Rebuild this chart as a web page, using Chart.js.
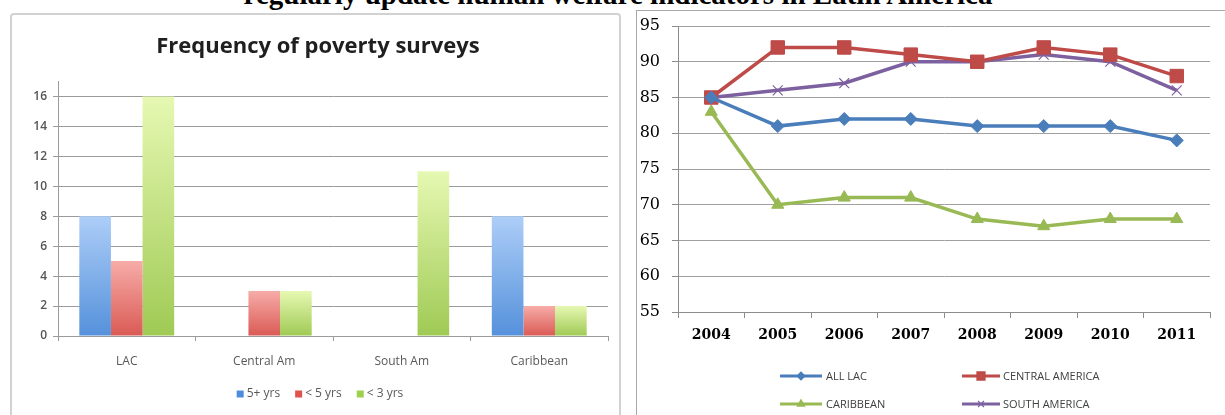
<!DOCTYPE html>
<html>
<head>
<meta charset="utf-8">
<script src="https://cdn.jsdelivr.net/npm/chart.js@4/dist/chart.umd.min.js"></script>
<style>
  html, body { margin: 0; padding: 0; background: #fff; }
  body { width: 1225px; height: 415px; overflow: hidden; position: relative; }
  #heading {
    position: absolute; left: 0; width: 1236px; top: -20px;
    text-align: center; white-space: nowrap; color: #000;
    font: bold 29px/29px 'Liberation Serif', 'Times New Roman', serif;
  }
  #leftBox {
    position: absolute; left: 10px; top: 13px; width: 611px; height: 420px;
    border: 2px solid #d2d2d2; border-radius: 4px; box-sizing: border-box;
  }
  #rightBox {
    position: absolute; left: 636px; top: 10px; width: 600px; height: 420px;
    border: 1px solid #a8a8a8; box-sizing: border-box;
  }
  #barCanvas { position: absolute; left: 0; top: 0; }
  #lineCanvas { position: absolute; left: 625px; top: 0; }
</style>
</head>
<body>
<div id="heading">regularly update human welfare indicators in Latin America</div>
<div id="leftBox"></div>
<div id="rightBox"></div>
<canvas id="barCanvas" width="625" height="415"></canvas>
<canvas id="lineCanvas" width="600" height="415"></canvas>
<script>
// ---- Survey frequency by region ----
const regions = ['LAC', 'Central Am', 'South Am', 'Caribbean'];
const surveySeries = ['5+ yrs', '< 5 yrs', '< 3 yrs'];
const fivePlusYears = [8, 0, 0, 8];
const underFiveYears = [5, 3, 0, 2];
const underThreeYears = [16, 3, 11, 2];
const countTicks = [0, 2, 4, 6, 8, 10, 12, 14, 16];

// ---- Indicator coverage by year ----
const years = ['2004', '2005', '2006', '2007', '2008', '2009', '2010', '2011'];
const lineSeries = ['ALL LAC', 'CENTRAL AMERICA', 'CARIBBEAN', 'SOUTH AMERICA'];
const allLac = [85, 81, 82, 82, 81, 81, 81, 79];
const centralAmerica = [85, 92, 92, 91, 90, 92, 91, 88];
const caribbean = [83, 70, 71, 71, 68, 67, 68, 68];
const southAmerica = [85, 86, 87, 90, 90, 91, 90, 86];

Chart.defaults.devicePixelRatio = 1;
Chart.defaults.animation = false;

const sans = '"Open Sans", sans-serif';

// Vertical gradient spanning each bar, light at the top, saturated at the base
function barGradient(light, dark) {
  return (ctx) => {
    const chart = ctx.chart;
    const y = chart.scales.y;
    if (!y || ctx.parsed === undefined || !chart.chartArea) return dark;
    const top = y.getPixelForValue(ctx.parsed.y);
    const base = y.getPixelForValue(0);
    if (!(base - top > 0.5)) return dark;
    const g = chart.ctx.createLinearGradient(0, top, 0, base);
    g.addColorStop(0, light);
    g.addColorStop(1, dark);
    return g;
  };
}

const barColors = [
  { light: '#adcef8', dark: '#5591db', key: '#4f8ddc' },
  { light: '#f7aca8', dark: '#da5a54', key: '#e0524d' },
  { light: '#e6f8b2', dark: '#9fca54', key: '#9dd04c' }
];

const barLegend = {
  id: 'barLegend',
  afterDraw(chart) {
    const c = chart.ctx;
    c.save();
    c.font = '12px ' + sans;
    c.textBaseline = 'middle';
    const box = 7, gap = 3, spacing = 15;
    const widths = surveySeries.map(s => box + gap + c.measureText(s).width);
    const total = widths.reduce((a, b) => a + b, 0) + spacing * (widths.length - 1);
    let x = 320 - total / 2;
    const y = 394;
    surveySeries.forEach((s, i) => {
      c.fillStyle = barColors[i].key;
      c.fillRect(x, y - box / 2, box, box);
      c.fillStyle = '#595959';
      c.fillText(s, x + box + gap, y);
      x += widths[i] + spacing;
    });
    c.restore();
  }
};

new Chart(document.getElementById('barCanvas'), {
  type: 'bar',
  data: {
    labels: regions,
    datasets: [fivePlusYears, underFiveYears, underThreeYears].map((d, i) => ({
      label: surveySeries[i],
      data: d,
      backgroundColor: barGradient(barColors[i].light, barColors[i].dark),
      borderWidth: 0,
      categoryPercentage: 0.69,
      barPercentage: 1.0
    }))
  },
  options: {
    responsive: false,
    layout: { padding: { left: 28, right: 17, top: 0, bottom: 0 } },
    plugins: {
      legend: { display: false },
      tooltip: { enabled: false },
      title: {
        display: true,
        text: 'Frequency of poverty surveys',
        color: '#1f1f1f',
        font: { family: sans, size: 22, weight: 'bold', lineHeight: 1.2 },
        padding: { top: 34, bottom: 21 }
      }
    },
    scales: {
      x: {
        afterFit(s) { s.height = 79; },
        grid: { offset: true, drawOnChartArea: false, drawTicks: true, tickLength: 5, tickColor: '#9b9b9b' },
        border: { display: true, color: '#9b9b9b', width: 1 },
        ticks: { color: '#595959', padding: 13, font: { family: sans, size: 12 } }
      },
      y: {
        min: 0, max: 17,
        afterFit(s) { s.width = 30; },
        afterBuildTicks(s) { s.ticks = countTicks.map(v => ({ value: v })); },
        grid: { color: '#9b9b9b', lineWidth: 1, drawTicks: true, tickLength: 5, tickColor: '#9b9b9b' },
        border: { display: true, color: '#9b9b9b', width: 1 },
        ticks: { color: '#555555', padding: 6, font: { family: sans, size: 12, weight: '600' } }
      }
    }
  },
  plugins: [barLegend]
});

const lineStyles = [
  { color: '#4a7ebb', marker: 'rectRot', radius: 6.5 },
  { color: '#be4b48', marker: 'rect', radius: 9.5 },
  { color: '#98b954', marker: 'triangle', radius: 7 },
  { color: '#7d60a0', marker: 'crossRot', radius: 7 }
];

// Two-column legend: a short line with its marker, then the series name
const lineLegend = {
  id: 'lineLegend',
  afterDraw(chart) {
    const c = chart.ctx;
    c.save();
    c.font = '11px ' + sans;
    c.textBaseline = 'middle';
    const cols = [{ x0: 155, x1: 197, tx: 201 }, { x0: 337, x1: 375, tx: 378 }];
    const rows = [376, 404];
    lineSeries.forEach((name, i) => {
      const col = cols[i % 2], y = rows[Math.floor(i / 2)];
      const st = lineStyles[i];
      c.strokeStyle = st.color;
      c.lineWidth = 3;
      c.beginPath(); c.moveTo(col.x0, y); c.lineTo(col.x1, y); c.stroke();
      c.fillStyle = st.color;
      c.lineWidth = 1.2;
      Chart.helpers.drawPoint(c, { pointStyle: st.marker, radius: st.radius * 0.6, borderWidth: 1.2 }, (col.x0 + col.x1) / 2, y);
      c.fillStyle = '#404040';
      c.fillText(name, col.tx, y + 0.5);
    });
    c.restore();
  }
};

new Chart(document.getElementById('lineCanvas'), {
  type: 'line',
  data: {
    labels: years,
    datasets: [allLac, centralAmerica, caribbean, southAmerica].map((d, i) => ({
      label: lineSeries[i],
      data: d,
      borderColor: lineStyles[i].color,
      backgroundColor: lineStyles[i].color,
      borderWidth: 3.5,
      tension: 0,
      pointStyle: lineStyles[i].marker,
      pointRadius: lineStyles[i].radius,
      pointBorderColor: lineStyles[i].color,
      pointBackgroundColor: lineStyles[i].color,
      pointBorderWidth: lineStyles[i].marker === 'crossRot' ? 1.2 : 1
    }))
  },
  options: {
    responsive: false,
    layout: { padding: { left: 0, right: 15, top: 26, bottom: 0 } },
    plugins: { legend: { display: false }, tooltip: { enabled: false } },
    scales: {
      x: {
        offset: true,
        afterFit(s) { s.height = 103; },
        grid: { offset: true, drawOnChartArea: false, drawTicks: true, tickLength: 6, tickColor: '#8c8c8c' },
        border: { display: true, color: '#8c8c8c', width: 1 },
        ticks: { color: '#000', padding: 9, font: { family: '"DejaVu Serif", serif', size: 14, weight: 'bold' } }
      },
      y: {
        min: 55, max: 95,
        afterFit(s) { s.width = 53; },
        grid: { color: '#a0a0a0', lineWidth: 1, drawTicks: true, tickLength: 6, tickColor: '#8c8c8c' },
        border: { display: true, color: '#8c8c8c', width: 1 },
        ticks: { stepSize: 5, color: '#000', padding: 12, font: { family: '"DejaVu Serif", serif', size: 16 } }
      }
    }
  },
  plugins: [lineLegend]
});
</script>
</body>
</html>
